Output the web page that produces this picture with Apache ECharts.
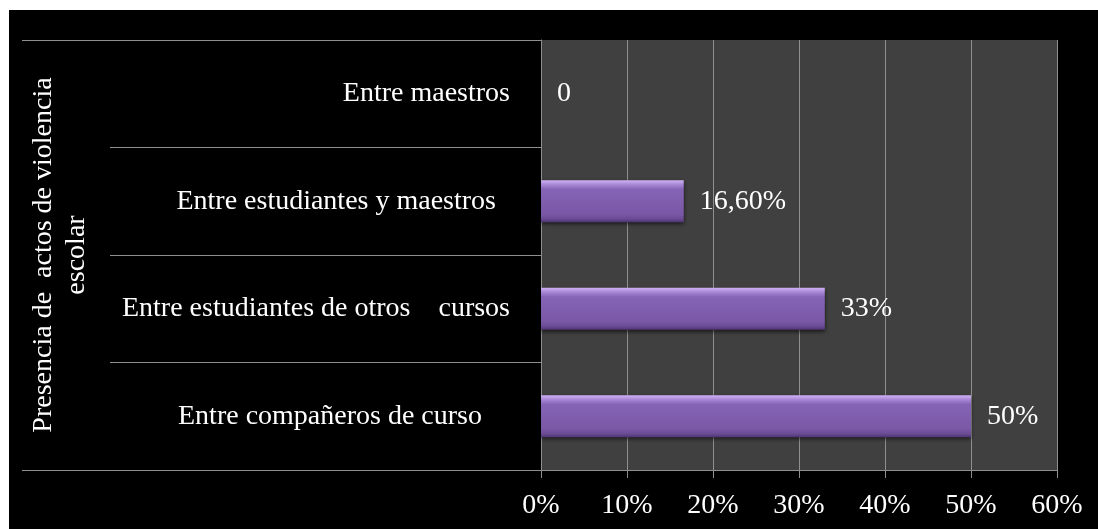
<!DOCTYPE html>
<html>
<head>
<meta charset="utf-8">
<script src="https://cdn.jsdelivr.net/npm/echarts@6/dist/echarts.min.js"></script>
<style>
  html, body { margin: 0; padding: 0; background: #ffffff; }
  #chart { position: absolute; left: 9px; top: 10px; width: 1089px; height: 519px; background: #000000; }
</style>
</head>
<body>
<div id="chart"></div>
<script>
// Data
var categories = [
  'Entre maestros',
  'Entre estudiantes y maestros  ',
  'Entre estudiantes de otros    cursos',
  'Entre compañeros de curso    '
];
var values = [0, 16.6, 33, 50];
var valueLabels = ['0', '16,60%', '33%', '50%'];
var groupLabel = ['Presencia de  actos de violencia\nescolar'];
var xTicks = { min: 0, max: 60, interval: 10 };

var FONT = '"Liberation Serif", "DejaVu Serif", serif';
var chart = echarts.init(document.getElementById('chart'), null, { renderer: 'canvas' });

var option = {
  backgroundColor: '#000000',
  animation: false,
  grid: {
    left: 532, right: 41, top: 30, bottom: 59,
    show: true, backgroundColor: '#404040', borderWidth: 0, containLabel: false
  },
  xAxis: {
    type: 'value',
    min: xTicks.min, max: xTicks.max, interval: xTicks.interval,
    axisLine: { show: true, lineStyle: { color: '#8f8f8f', width: 1 } },
    axisTick: { show: true, length: 8, lineStyle: { color: '#8f8f8f', width: 1 } },
    splitLine: { show: true, lineStyle: { color: '#8f8f8f', width: 1 } },
    axisLabel: {
      color: '#ffffff', fontFamily: FONT, fontSize: 28, margin: 22,
      formatter: function (v) { return v + '%'; }
    }
  },
  yAxis: [
    {
      type: 'category',
      data: categories,
      inverse: true,
      axisLine: { show: true, lineStyle: { color: '#8f8f8f', width: 1 } },
      axisTick: { show: true, length: 431, lineStyle: { color: '#8f8f8f', width: 1 } },
      axisLabel: { color: '#ffffff', fontFamily: FONT, fontSize: 28, margin: 31, interval: 0, padding: [6, 0, 0, 0] },
      splitLine: { show: false }
    },
    {
      type: 'category',
      data: groupLabel,
      position: 'left',
      axisLine: { show: false },
      axisTick: { show: true, length: 519, lineStyle: { color: '#8f8f8f', width: 1 } },
      axisLabel: {
        color: '#ffffff', fontFamily: FONT, fontSize: 28, lineHeight: 33,
        rotate: 90, margin: 448, interval: 0, align: 'center'
      },
      splitLine: { show: false }
    }
  ],
  series: [
    {
      type: 'bar',
      yAxisIndex: 0,
      data: values,
      barWidth: 42,
      itemStyle: {
        color: new echarts.graphic.LinearGradient(0, 0, 0, 1, [
          { offset: 0, color: '#d2b2f7' },
          { offset: 0.1, color: '#a988d6' },
          { offset: 0.22, color: '#8564b6' },
          { offset: 0.8, color: '#7a58a6' },
          { offset: 0.92, color: '#6a4b94' },
          { offset: 1, color: '#4e3473' }
        ]),
        shadowBlur: 4, shadowColor: 'rgba(0,0,0,0.6)', shadowOffsetY: 2
      },
      label: {
        show: true, position: 'right', distance: 16,
        color: '#ffffff', fontFamily: FONT, fontSize: 28, padding: [5, 0, 0, 0],
        formatter: function (p) { return valueLabels[p.dataIndex]; }
      }
    }
  ]
};
chart.setOption(option);
</script>
</body>
</html>
